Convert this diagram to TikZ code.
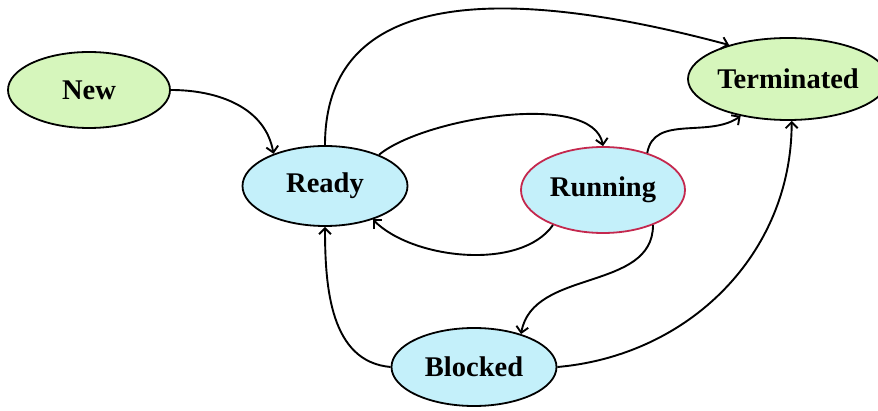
\documentclass[tikz,border=0pt]{standalone}
\usepackage{fontspec}
\setmainfont{Liberation Serif}
\usetikzlibrary{shapes, arrows.meta, positioning}

\definecolor{pgreen}{RGB}{214,246,188}
\definecolor{pblue}{RGB}{196,240,250}
\definecolor{pred}{RGB}{196,40,78}
\pgfdeclareradialshading{greenrim}{\pgfpoint{0bp}{0bp}}{color(0bp)=(pgreen); color(41bp)=(pgreen); color(50bp)=(pgreen!80!black)}
\pgfdeclareradialshading{bluerim}{\pgfpoint{0bp}{0bp}}{color(0bp)=(pblue); color(41bp)=(pblue); color(50bp)=(pblue!80!black)}

\begin{document}
\begin{tikzpicture}[x=1pt, y=1pt,
  state/.style={ellipse, draw, line width=1.8pt, inner sep=0pt, shade, font=\fontsize{28.5}{31}\selectfont\bfseries},
  endstate/.style={state, shading=greenrim},
  midstate/.style={state, shading=bluerim},
  trans/.style={-{Straight Barb[length=6pt, width=12pt]}, line width=1.9pt}]
\useasboundingbox (0,0) rectangle (878,-411);
\node[endstate, minimum width=162pt, minimum height=76pt] (New) at (89,-90) {New};
\node[midstate, minimum width=165pt, minimum height=80pt] (Ready) at (325,-186) {Ready};
\node[midstate, draw=pred, minimum width=164pt, minimum height=86pt] (Running) at (603,-190) {Running};
\node[endstate, minimum width=182pt, minimum height=82pt] (Terminated) at (788,-79) {Terminated};
\node[midstate, minimum width=165pt, minimum height=78pt] (Blocked) at (474,-367) {Blocked};
\draw[trans] (New.east) to[out=0, in=100] (Ready.148);
\draw[trans] (Ready.north) to[out=90, in=165, looseness=1.1] (Terminated.150);
\draw[trans] (Ready.30) to[out=40, in=100, looseness=0.65] (Running.north);
\draw[trans] (Running.215) to[out=235, in=-45, looseness=0.8] (Ready.-35);
\draw[trans] (Running.40) to[out=80, in=215] (Terminated.218);
\draw[trans] (Running.-35) to[out=-90, in=80] (Blocked.35);
\draw[trans] (Blocked.west) to[out=175, in=-90] (Ready.south);
\draw[trans] (Blocked.east) to[out=5, in=-90] (Terminated.-85);
\end{tikzpicture}
\end{document}
